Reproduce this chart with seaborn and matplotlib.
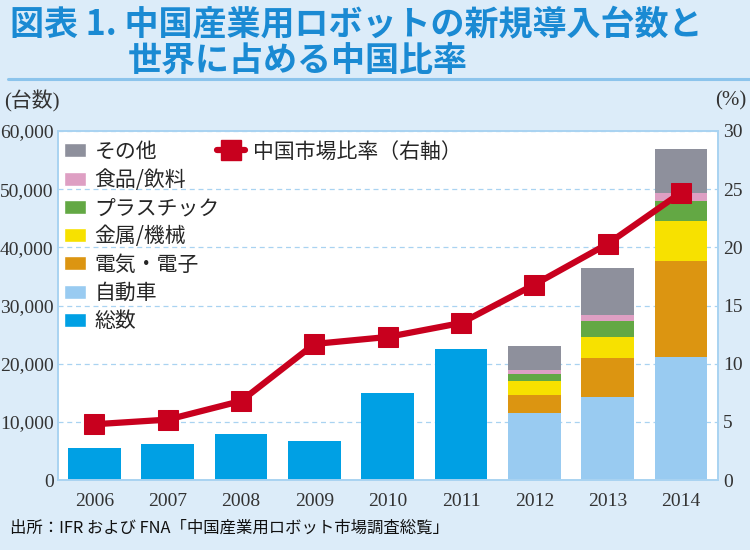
import numpy as np
import pandas as pd
import matplotlib
matplotlib.use("Agg")
import matplotlib.pyplot as plt
from matplotlib.patches import Patch
from matplotlib.lines import Line2D
from matplotlib.ticker import FuncFormatter
import seaborn as sns

# 新規導入台数（2006-2011 は総数のみ）
years = ["2006", "2007", "2008", "2009", "2010", "2011", "2012", "2013", "2014"]
total_years = ["2006", "2007", "2008", "2009", "2010", "2011"]
total = [5450, 6150, 7900, 6650, 15000, 22550]

# 2012-2014 の業種別内訳
seg_years = ["2012", "2013", "2014"]
auto = [11500, 14300, 21100]
elec = [3200, 6600, 16600]
metal = [2300, 3700, 6900]
plastic = [1300, 2800, 3400]
food = [600, 900, 1400]
other = [4100, 8200, 7500]

# 中国市場比率（%）
share = [4.8, 5.2, 6.8, 11.7, 12.3, 13.5, 16.8, 20.3, 24.7]

BG = "#dcecf9"
EDGE = "#a9d3f1"
BLUE_T = "#1a8ad3"
RED = "#c8001e"

sns.set_style("white")
plt.rcParams["font.family"] = ["Noto Sans CJK JP", "DejaVu Sans"]
serif = ["Liberation Serif", "Noto Sans CJK JP"]

fig = plt.figure(figsize=(7.5, 5.5), dpi=100, facecolor=BG)
ax = fig.add_axes([0.077, 0.127, 0.88, 0.635])
ax.set_facecolor("white")

# 積み上げ棒：累積値を大きい順に重ねて描く
layers = [
    ("自動車", auto, "#99cbf1"),
    ("電気・電子", elec, "#dc9511"),
    ("金属/機械", metal, "#f7e100"),
    ("プラスチック", plastic, "#63a844"),
    ("食品/飲料", food, "#de9fc3"),
    ("その他", other, "#8e909c"),
]
cum = np.cumsum([l[1] for l in layers], axis=0)
for i in range(len(layers) - 1, -1, -1):
    df = pd.DataFrame({"year": seg_years, "value": cum[i]})
    sns.barplot(data=df, x="year", y="value", order=years, color=layers[i][2],
                saturation=1, width=0.72, errorbar=None, linewidth=0, ax=ax)

df_tot = pd.DataFrame({"year": total_years, "value": total})
sns.barplot(data=df_tot, x="year", y="value", order=years, color="#00a0e4",
            saturation=1, width=0.72, errorbar=None, linewidth=0, ax=ax)

ax.set_ylim(0, 60000)
ax.set_xlim(-0.5, len(years) - 0.5)
ax.set_xlabel("")
ax.set_ylabel("")
ax.set_yticks(range(0, 60001, 10000))
ax.yaxis.set_major_formatter(FuncFormatter(lambda v, p: f"{int(v):,}"))
ax.yaxis.grid(True, linestyle=(0, (4, 3)), color=EDGE, linewidth=0.9)
ax.set_axisbelow(True)
ax.set_xticks(np.arange(-0.5, len(years), 1), minor=True)
ax.tick_params(axis="x", which="major", length=0, pad=9)
ax.tick_params(axis="x", which="minor", direction="in", length=5, color=EDGE, width=1)
ax.tick_params(axis="y", length=0, pad=3)
for lab in ax.get_xticklabels() + ax.get_yticklabels():
    lab.set_fontfamily(serif)
    lab.set_fontsize(14)
    lab.set_color("#333333")

ax2 = ax.twinx()
sns.lineplot(x=np.arange(len(years)), y=share, ax=ax2, color=RED, linewidth=4.5,
             marker="s", markersize=15, markeredgecolor=RED)
ax2.set_ylim(0, 30)
ax2.set_xlim(-0.5, len(years) - 0.5)
ax2.set_yticks(range(0, 31, 5))
ax2.grid(False)
ax2.tick_params(axis="y", length=0, pad=4)
for lab in ax2.get_yticklabels():
    lab.set_fontfamily(serif)
    lab.set_fontsize(14)
    lab.set_color("#333333")

for a in (ax, ax2):
    for s in a.spines.values():
        s.set_color(EDGE)
        s.set_linewidth(1.2)

# 凡例
handles = [Patch(facecolor=c, label=n) for n, v, c in reversed(layers)]
handles.append(Patch(facecolor="#00a0e4", label="総数"))
leg1 = ax2.legend(handles=handles, loc="upper left", bbox_to_anchor=(0.01, 0.972),
                  frameon=False, fontsize=15, handlelength=1.05, handleheight=0.65,
                  handletextpad=0.4, labelspacing=0.30, borderpad=0, borderaxespad=0)
ax2.add_artist(leg1)
line_h = Line2D([], [], color=RED, linewidth=4.5, marker="s", markersize=15,
                label="中国市場比率（右軸）")
ax2.legend(handles=[line_h], loc="upper left", bbox_to_anchor=(0.242, 0.972),
           frameon=False, fontsize=15, handlelength=1.3, handletextpad=0.4,
           borderpad=0, borderaxespad=0)

# タイトルと注記
fig.text(10 / 750, 1 - 7 / 550, "図表 1. 中国産業用ロボットの新規導入台数と",
         fontsize=24.5, fontweight="bold", color=BLUE_T, va="top", ha="left")
fig.text(128 / 750, 1 - 43 / 550, "世界に占める中国比率",
         fontsize=24.5, fontweight="bold", color=BLUE_T, va="top", ha="left")
fig.add_artist(Line2D([8 / 750, 1.0], [1 - 79 / 550] * 2, color="#8cc4ec", linewidth=2.2))
fig.text(4 / 750, 1 - 101 / 550, "(台数)", fontsize=15, family=serif,
         color="#333333", va="center", ha="left")
fig.text(746 / 750, 1 - 101 / 550, "(%)", fontsize=15, family=serif,
         color="#333333", va="center", ha="right")
fig.text(10 / 750, 1 - 528 / 550, "出所：IFR および FNA「中国産業用ロボット市場調査総覧」",
         fontsize=11.8, color="#111111", va="center", ha="left")

fig.savefig("out.png", dpi=100, facecolor=BG)
